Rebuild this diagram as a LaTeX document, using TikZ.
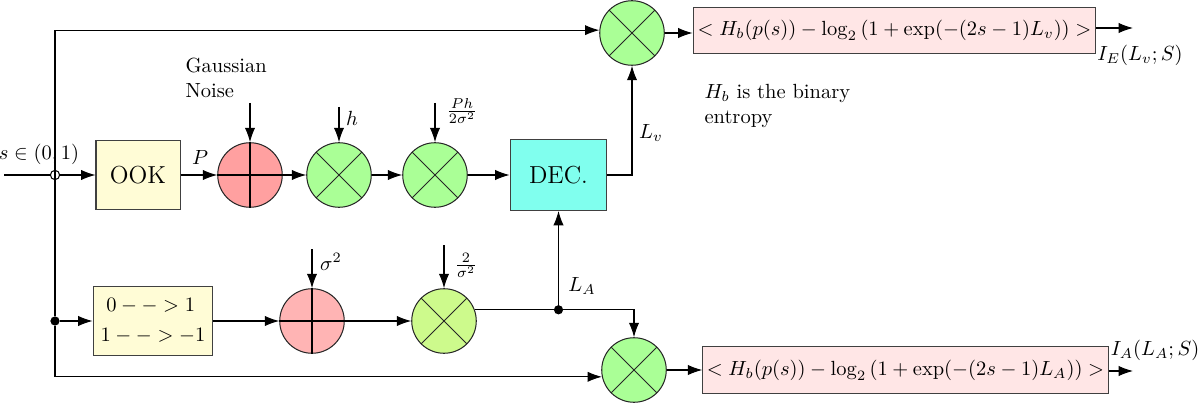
\documentclass[tikz,border=0pt]{standalone}
\usetikzlibrary{arrows.meta,calc}
\definecolor{addA}{RGB}{255,160,160}
\definecolor{addB}{RGB}{255,180,180}
\definecolor{mulG}{RGB}{170,255,150}
\definecolor{mulY}{RGB}{205,250,140}
\definecolor{decC}{RGB}{128,255,238}
\definecolor{boxP}{RGB}{255,230,230}
\definecolor{boxY}{RGB}{255,252,214}
\tikzset{
  arr/.style={-{Latex[length=7pt,width=5pt]}},
  ln/.style={line width=0.5pt},
  blk/.style={draw=black!75,line width=0.5pt,inner sep=2pt},
  circ/.style={circle,draw=black!85,line width=0.5pt,minimum size=31.5pt,inner sep=0pt},
  mult/.style={circ,path picture={
      \draw[line width=0.5pt] (path picture bounding box.north west) -- (path picture bounding box.south east);
      \draw[line width=0.5pt] (path picture bounding box.north east) -- (path picture bounding box.south west);}},
  junc/.style={circle,fill=black,inner sep=0pt,minimum size=4.5pt},
  ojunc/.style={circle,draw=black,inner sep=0pt,minimum size=4.5pt},
  lbl/.style={inner sep=1pt}
}
\begin{document}
\begin{tikzpicture}[x=0.01715cm,y=-0.01715cm,ln]
\useasboundingbox (0,0) rectangle (1200,405);
% upper row
\node[blk,fill=boxY,minimum width=41pt,minimum height=33.7pt] (ook) at (138,175) {\large OOK};
\node[circ,fill=addA] (a1) at (250,175) {};
\draw (a1.north) -- (a1.south) (a1.west) -- (a1.east);
\node[mult,fill=mulG] (m1) at (339,175) {};
\node[mult,fill=mulG] (m2) at (435,175) {};
\node[blk,fill=decC,minimum width=47.3pt,minimum height=34.6pt] (dec) at (558.5,175) {\large DEC.};
\node[mult,fill=mulG] (mt) at (632,33) {};
\node[blk,fill=boxP,minimum width=196.6pt,minimum height=22pt] (bE) at (894.5,30.5)
  {$<H_b(p(s))-\log_2\left(1+\exp(-(2s-1)L_v)\right)>$};
% lower row
\node[blk,fill=boxY,minimum width=58.5pt,minimum height=33.2pt,align=left] (map) at (153,321)
  {$\;0-->1$\\[2.5pt]$1-->-1$};
\node[circ,fill=addB] (a2) at (312,321) {};
\draw (a2.north) -- (a2.south) (a2.west) -- (a2.east);
\node[mult,fill=mulY] (m3) at (444,321) {};
\node[mult,fill=mulG] (mb) at (634,370) {};
\node[blk,fill=boxP,minimum width=195.6pt,minimum height=22.9pt] (bA) at (905.5,370)
  {$<H_b(p(s))-\log_2\left(1+\exp(-(2s-1)L_A)\right)>$};
% junctions and free ends
\coordinate (in) at (4,175);
\node[ojunc] (j1) at (55,175) {};
\node[junc] (j2) at (55,321) {};
\coordinate (jA) at (dec.south |- m3.20);
\node[junc] at (jA) {};
\coordinate (nA) at (250,103);
\coordinate (nh) at (339,107);
\coordinate (nP) at (435,103);
\coordinate (ns) at (312,249);
\coordinate (n2) at (444,245);
\coordinate (oE) at (1133,28);
\coordinate (oA) at (1133,371);
% connectors
\draw (in) -- (j1.west);
\draw (j1.north) -- (j1.south);
\draw[arr] (j1.east) -- (ook.west);
\draw[arr] (j1.north) |- (mt.175);
\draw (j1.south) -- (j2);
\draw[arr] (j2) |- (mb.192);
\draw[arr] (j2) -- (map.west);
\draw[arr] (ook.east) -- (a1.west);
\draw[arr] (a1.east) -- (m1.west);
\draw[arr] (m1.east) -- (m2.west);
\draw[arr] (m2.east) -- (dec.west);
\draw[arr] (dec.east) -| (mt.south);
\draw[arr] (mt.east) -- (mt.east -| bE.west);
\draw[arr] (bE.east |- oE) -- (oE);
\draw[arr] (nA) -- (a1.north);
\draw[arr] (nh) -- (m1.north);
\draw[arr] (nP) -- (m2.north);
\draw[arr] (map.east) -- (a2.west);
\draw[arr] (a2.east) -- (m3.west);
\draw[arr] (ns) -- (a2.north);
\draw[arr] (n2) -- (m3.north);
\draw (m3.20) -- (jA);
\draw[arr] (jA) -- (dec.south);
\draw[arr] (jA) -| (mb.north);
\draw[arr] (mb.east) -- (mb.east -| bA.west);
\draw[arr] (bA.east |- oA) -- (oA);
% labels
\node[lbl] (ls) at (39,154) {$s\in(0,1)$};
\node[lbl] (lP) at (200,157) {$P$};
\node[lbl,align=left,anchor=west] (lG) at (183,78) {Gaussian\\Noise};
\node[lbl] (lh) at (352,118) {$h$};
\node[lbl] (lPh) at (462,111) {$\frac{Ph}{2\sigma^2}$};
\node[lbl] (lLv) at (651,133) {$L_v$};
\node[lbl,align=left,anchor=west] (lHb) at (702,106) {$H_b$ is the binary\\entropy};
\node[lbl] (lIE) at (1140,55) {$I_E(L_v;S)$};
\node[lbl] (ls2) at (331,262) {$\sigma^2$};
\node[lbl] (l2s) at (466,265) {$\frac{2}{\sigma^2}$};
\node[lbl] (lLA) at (582,286) {$L_A$};
\node[lbl] (lIA) at (1155,350) {$I_A(L_A;S)$};
\end{tikzpicture}
\end{document}
